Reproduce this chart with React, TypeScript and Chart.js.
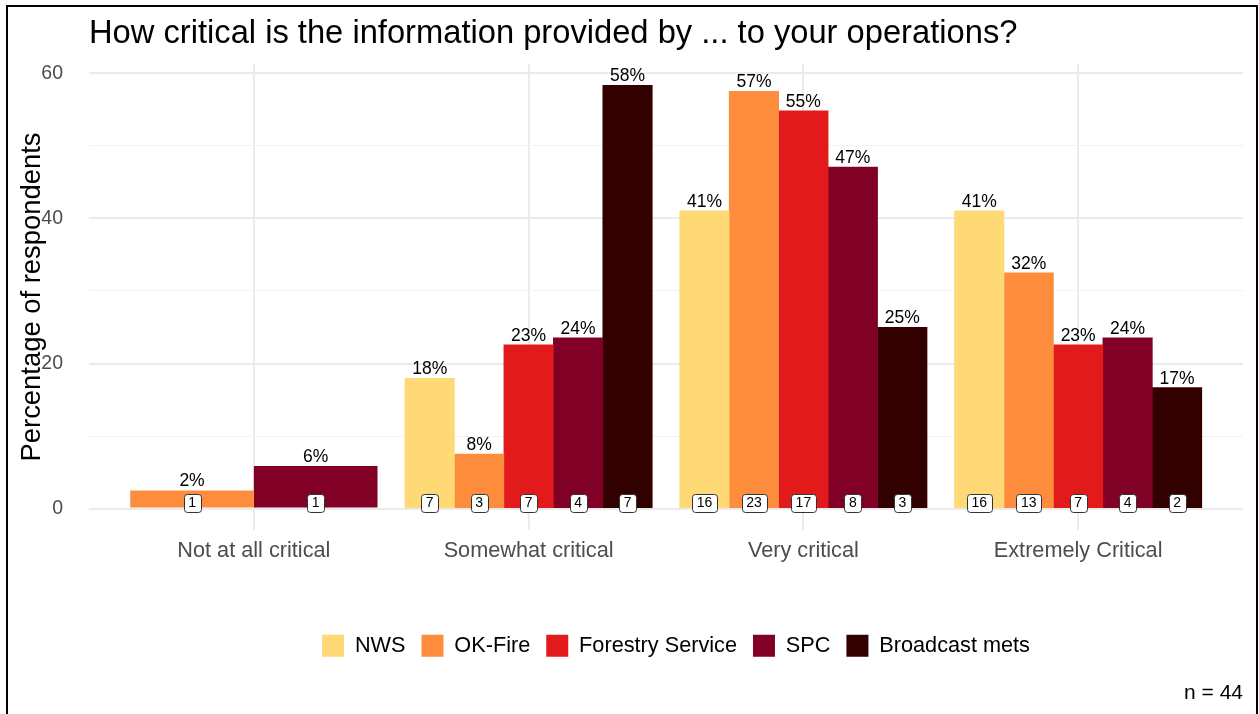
import React, { useEffect, useRef } from "react";
import { Chart, registerables } from "chart.js";

Chart.register(...registerables);

const FONT = "'Liberation Sans', Arial, Helvetica, sans-serif";

const chartTitle = "How critical is the information provided by ... to your operations?";
const yAxisTitle = "Percentage of respondents";
const captionText = "n = 44";

const categories = ["Not at all critical", "Somewhat critical", "Very critical", "Extremely Critical"];
const seriesNames = ["NWS", "OK-Fire", "Forestry Service", "SPC", "Broadcast mets"];
const seriesColors = ["#FED976", "#FD8D3C", "#E31A1C", "#800026", "#330000"];

// percentage of respondents per category (null = no bar)
const nwsPct = [null, 17.95, 41.03, 41.03];
const okFirePct = [2.5, 7.5, 57.5, 32.5];
const forestryPct = [null, 22.58, 54.84, 22.58];
const spcPct = [5.88, 23.53, 47.06, 23.53];
const broadcastPct = [null, 58.33, 25.0, 16.67];

// printed percentage labels
const nwsLabels = [null, "18%", "41%", "41%"];
const okFireLabels = ["2%", "8%", "57%", "32%"];
const forestryLabels = [null, "23%", "55%", "23%"];
const spcLabels = ["6%", "24%", "47%", "24%"];
const broadcastLabels = [null, "58%", "25%", "17%"];

// respondent counts
const nwsCounts = [null, 7, 16, 16];
const okFireCounts = [1, 3, 23, 13];
const forestryCounts = [null, 7, 17, 7];
const spcCounts = [1, 4, 8, 4];
const broadcastCounts = [null, 7, 3, 2];

const yTickValues = [0, 10, 20, 30, 40, 50, 60];
const yTickLabels = ["0", "", "20", "", "40", "", "60"];

const pctBySeries = [nwsPct, okFirePct, forestryPct, spcPct, broadcastPct];
const labelsBySeries = [nwsLabels, okFireLabels, forestryLabels, spcLabels, broadcastLabels];
const countsBySeries = [nwsCounts, okFireCounts, forestryCounts, spcCounts, broadcastCounts];

const GROUP_WIDTH = 0.9;

function buildDatasets() {
  const present = categories.map((_, c) => pctBySeries.filter((s) => s[c] != null).length);
  const maxN = Math.max(...present);
  const unit = GROUP_WIDTH / maxN;
  const datasets: any[] = [];
  seriesNames.forEach((name, s) => {
    const groups = new Map<number, number[]>();
    categories.forEach((_, c) => {
      if (pctBySeries[s][c] == null) return;
      const n = present[c];
      if (!groups.has(n)) groups.set(n, []);
      groups.get(n)!.push(c);
    });
    let first = true;
    groups.forEach((cats, n) => {
      const data = cats.map((c) => {
        let rank = 0;
        for (let k = 0; k < s; k++) if (pctBySeries[k][c] != null) rank++;
        const x = c + 1 - GROUP_WIDTH / 2 + (rank + 0.5) * (GROUP_WIDTH / n);
        return { x, y: pctBySeries[s][c], pctLabel: labelsBySeries[s][c], count: countsBySeries[s][c] };
      });
      datasets.push({
        label: name,
        data,
        backgroundColor: seriesColors[s],
        borderWidth: 0,
        grouped: false,
        barPercentage: 1,
        categoryPercentage: GROUP_WIDTH / n / unit,
        inLegend: first,
      });
      first = false;
    });
  });
  return datasets;
}

const barLabelPlugin = {
  id: "barLabels",
  afterDatasetsDraw(chart: any) {
    const ctx = chart.ctx;
    const y0 = chart.scales.y.getPixelForValue(0);
    chart.data.datasets.forEach((ds: any, i: number) => {
      const meta = chart.getDatasetMeta(i);
      meta.data.forEach((bar: any, j: number) => {
        const d = ds.data[j];
        const { x, y } = bar.getProps(["x", "y"], true);
        ctx.save();
        ctx.font = `17.5px ${FONT}`;
        ctx.fillStyle = "#000";
        ctx.textAlign = "center";
        ctx.textBaseline = "alphabetic";
        ctx.fillText(d.pctLabel, x, y - 4);
        const txt = String(d.count);
        ctx.font = `14px ${FONT}`;
        const w = ctx.measureText(txt).width + 9;
        const h = 18;
        const cy = y0 - 6;
        ctx.beginPath();
        (ctx as any).roundRect(Math.round(x - w / 2) + 0.5, Math.round(cy - h / 2) + 0.5, Math.round(w), h, 3);
        ctx.fillStyle = "#fff";
        ctx.fill();
        ctx.lineWidth = 1;
        ctx.strokeStyle = "#333";
        ctx.stroke();
        ctx.fillStyle = "#000";
        ctx.textBaseline = "middle";
        ctx.fillText(txt, x, cy + 1);
        ctx.restore();
      });
    });
  },
};

// nudge legend so it sits where the reference places it
const legendShiftPlugin = {
  id: "legendShift",
  afterLayout(chart: any) {
    if (chart.legend) {
      chart.legend.left += 10;
      chart.legend.right += 10;
    }
  },
};

const framePlugin = {
  id: "frame",
  afterDraw(chart: any) {
    const ctx = chart.ctx;
    ctx.save();
    ctx.fillStyle = "#000";
    ctx.fillRect(6, 5, 1252, 2);
    ctx.fillRect(6, 5, 2, 709);
    ctx.fillRect(1256, 5, 2, 709);
    ctx.restore();
  },
};

export default function App() {
  const ref = useRef<HTMLCanvasElement | null>(null);
  useEffect(() => {
    if (!ref.current) return;
    const chart = new Chart(ref.current, {
      type: "bar",
      data: { datasets: buildDatasets() },
      plugins: [barLabelPlugin, legendShiftPlugin, framePlugin],
      options: {
        animation: false,
        responsive: false,
        devicePixelRatio: 1,
        layout: { padding: { top: 14, left: 10, right: 16, bottom: 8 } },
        plugins: {
          title: {
            display: true,
            text: chartTitle,
            align: "start",
            fullSize: false,
            color: "#000",
            font: { family: FONT, size: 32.7, weight: "normal" },
            padding: { top: 0, bottom: 11 },
          },
          subtitle: {
            display: true,
            text: captionText,
            position: "bottom",
            align: "end",
            fullSize: false,
            color: "#000",
            font: { family: FONT, size: 21, weight: "normal" },
            padding: { top: 14, bottom: 0 },
          },
          legend: {
            position: "bottom",
            fullSize: false,
            labels: {
              color: "#000",
              font: { family: FONT, size: 21.7 },
              boxWidth: 22,
              boxHeight: 22,
              padding: 16,
              filter: (item: any, data: any) => !!data.datasets[item.datasetIndex].inLegend,
            },
          },
          tooltip: { enabled: false },
        },
        scales: {
          x: {
            type: "linear",
            min: 0.4,
            max: 4.6,
            offset: false,
            afterBuildTicks: (scale: any) => {
              scale.ticks = categories.map((_, i) => ({ value: i + 1 }));
            },
            afterFit: (scale: any) => {
              scale.height = 89;
            },
            ticks: {
              autoSkip: false,
              maxRotation: 0,
              padding: 8,
              color: "#4D4D4D",
              font: { family: FONT, size: 21.7 },
              callback: (v: any) => categories[Math.round(Number(v)) - 1],
            },
            grid: { color: "#EBEBEB", lineWidth: 2, drawTicks: false, offset: false },
            border: { display: false },
          },
          y: {
            type: "linear",
            min: -2.92,
            max: 61.25,
            afterBuildTicks: (scale: any) => {
              scale.ticks = yTickValues.map((v) => ({ value: v }));
            },
            afterFit: (scale: any) => {
              scale.width = 79;
            },
            ticks: {
              autoSkip: false,
              padding: 26,
              color: "#4D4D4D",
              font: { family: FONT, size: 19.5 },
              callback: (v: any) => yTickLabels[yTickValues.indexOf(Number(v))] ?? "",
            },
            grid: {
              drawTicks: false,
              color: (c: any) => (c.tick && c.tick.value % 20 === 0 ? "#EBEBEB" : "#F2F2F2"),
              lineWidth: (c: any) => (c.tick && c.tick.value % 20 === 0 ? 2 : 1),
            },
            border: { display: false },
            title: {
              display: true,
              text: yAxisTitle,
              color: "#000",
              font: { family: FONT, size: 27.4, weight: "normal" },
              padding: { top: 6, bottom: 0 },
            },
          },
        },
      } as any,
    });
    return () => chart.destroy();
  }, []);
  return (
    <div style={{ position: "absolute", left: 0, top: 0, width: 1259, height: 714, background: "#fff" }}>
      <canvas ref={ref} width={1259} height={714} style={{ display: "block" }} />
    </div>
  );
}
